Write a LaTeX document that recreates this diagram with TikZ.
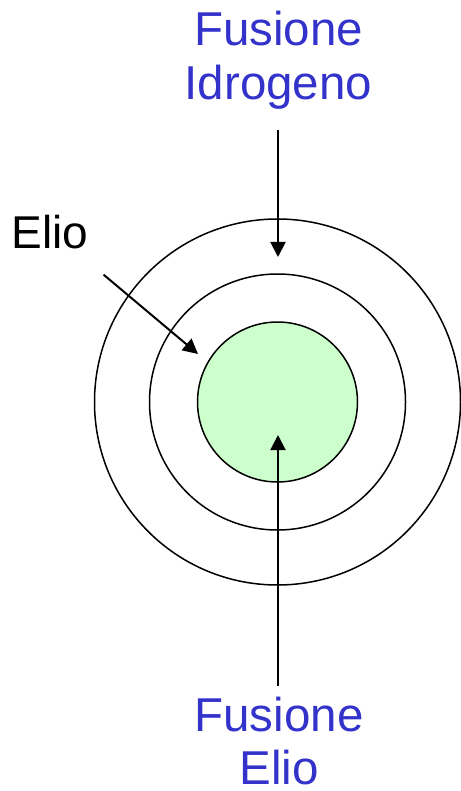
\documentclass[tikz,border=0pt]{standalone}
\usepackage{fontspec}
\setmainfont{Liberation Sans}
\usepackage{xcolor}
\usetikzlibrary{arrows.meta}
\definecolor{fusblue}{RGB}{51,51,204}
\definecolor{coregreen}{RGB}{204,255,204}

\begin{document}
\begin{tikzpicture}[x=1pt, y=-1pt, >={Triangle[length=15pt,width=15pt]}]
    \tikzset{
        label/.style={font=\fontsize{46}{54}\selectfont, inner sep=0pt, anchor=base},
        fusion/.style={label, fusblue, font=\fontsize{47.5}{54}\selectfont},
        ring/.style={line width=1.5pt},
        pointer/.style={->, line width=2pt}
    }

    % Frame
    \useasboundingbox (0,0) rectangle (460,791);

    % Shells of the star
    \draw[ring] (277.5,402) circle[radius=183];
    \draw[ring] (277.5,402) circle[radius=128];
    \draw[ring, fill=coregreen] (277.5,402) circle[radius=80];

    % Labels
    \node[fusion] (fusH1) at (278.5,46) {Fusione};
    \node[fusion] (fusH) at (278.5,100) {Idrogeno};
    \node[label] (elio) at (50,248) {Elio};
    \node[fusion] (fusHe1) at (279,731) {Fusione};
    \node[fusion] (fusHe) at (279,784) {Elio};

    % Arrow tips
    \coordinate (tipH) at (278,257);
    \coordinate (tipElio) at (198,354);
    \coordinate (tipHe) at (278,435);

    % Pointers
    \draw[pointer] (fusH.south -| tipH) ++(0,20) -- (tipH);
    \draw[pointer] (elio.south east) ++(15,26) -- (tipElio);
    \draw[pointer] (fusHe1.north -| tipHe) ++(0,-10) -- (tipHe);

\end{tikzpicture}
\end{document}
